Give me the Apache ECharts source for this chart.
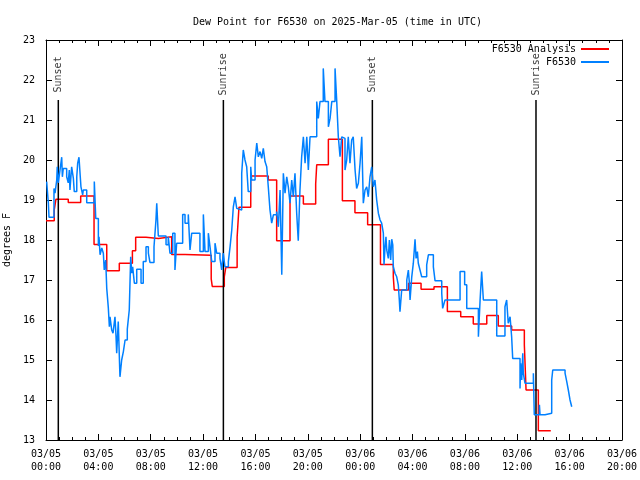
<!DOCTYPE html>
<html><head><meta charset="utf-8">
<script src="https://cdn.jsdelivr.net/npm/echarts@6/dist/echarts.min.js"></script>
<style>html,body{margin:0;padding:0;background:#fff}#c{width:640px;height:480px}</style>
</head><body><div id="c"></div>
<script>
const titleText = 'Dew Point for F6530 on 2025-Mar-05 (time in UTC)';
const yName = 'degrees F';
const seriesNames = ['F6530 Analysis', 'F6530'];
// hours since 2025-03-05 00:00 UTC
const redTimes = [0, 0.63, 0.76, 1.70, 2.65, 3.67, 4.64, 5.60, 6.60, 6.85, 7.64, 8.58, 9.60, 10.62, 12.62, 12.70, 13.62, 13.73, 14.60, 14.74, 15.64, 16.98, 17.62, 18.64, 19.66, 20.60, 20.68, 21.57, 22.64, 23.60, 24.57, 25.55, 26.53, 26.60, 27.70, 28.65, 29.64, 30.66, 31.68, 32.64, 33.67, 34.55, 35.57, 36.54, 36.67, 37.61, 38.56];
const redValues = [18.48, 18.75, 19.02, 18.94, 19.10, 17.89, 17.23, 17.42, 17.73, 18.07, 18.04, 18.08, 17.64, 17.62, 17.03, 16.84, 17.08, 17.31, 18.07, 18.82, 19.60, 19.50, 17.98, 19.10, 18.90, 19.40, 19.88, 20.52, 18.98, 18.68, 18.38, 17.39, 17.08, 16.75, 16.92, 16.77, 16.83, 16.21, 16.08, 15.90, 16.11, 15.85, 15.75, 15.38, 14.25, 13.23, 13.23];
const blueTimes = [0.05,0.18,0.23,0.61,0.69,0.82,0.86,0.94,1.07,1.20,1.25,1.32,1.58,1.70,1.78,1.83,1.96,2.09,2.16,2.35,2.42,2.52,2.60,2.67,2.80,2.85,3.11,3.69,3.80,4.00,4.05,4.13,4.26,4.38,4.45,4.56,4.64,4.76,4.84,4.89,5.02,5.12,5.27,5.35,5.40,5.52,5.65,5.78,5.91,6.04,6.21,6.36,6.47,6.55,6.62,6.75,6.93,7.26,7.43,7.64,7.82,7.94,8.25,8.40,8.46,8.58,9.17,9.34,9.47,9.68,9.85,9.98,10.44,10.62,10.87,11.00,11.13,11.76,12.02,12.15,12.40,12.53,12.66,12.91,13.04,13.29,13.42,13.54,13.67,13.93,14.06,14.19,14.31,14.44,14.57,14.69,14.95,15.07,15.20,15.33,15.45,15.64,15.71,15.97,16.10,16.22,16.35,16.48,16.60,16.73,16.86,16.98,17.11,17.24,17.37,17.62,17.75,17.88,18.01,18.13,18.26,18.39,18.51,18.64,18.77,18.89,19.02,19.15,19.27,19.40,19.53,19.66,19.79,19.92,20.04,20.17,20.68,20.80,20.93,21.18,21.31,21.57,21.70,21.83,22.08,22.21,22.33,22.46,22.59,22.71,22.84,22.97,23.09,23.22,23.35,23.47,23.61,23.73,23.86,23.99,24.12,24.24,24.37,24.50,24.62,24.75,24.88,25.00,25.13,25.26,25.39,25.52,25.64,25.77,25.82,25.90,25.97,26.03,26.15,26.23,26.33,26.41,26.49,26.53,26.66,26.79,26.91,26.99,27.04,27.17,27.56,27.68,27.75,27.81,27.94,28.06,28.19,28.27,28.37,28.44,28.57,28.70,29.08,29.21,29.59,29.72,30.23,30.30,30.41,30.48,31.63,31.98,32.14,33.03,33.16,33.28,33.41,34.43,35.06,35.19,35.31,35.45,35.57,35.65,36.21,36.26,36.34,36.42,36.46,36.59,37.23,37.30,37.69,37.74,38.12,38.63,38.71,39.65,39.78,39.90,40.03,40.16];
const blueValues = [19.46,18.92,18.57,19.29,19.17,19.50,19.83,19.43,19.75,20.07,19.58,19.79,19.58,19.43,19.75,19.25,19.83,19.54,19.21,19.58,19.92,20.07,19.67,19.33,19.13,19.25,18.93,19.46,18.54,17.85,18.08,17.63,17.80,17.67,17.25,17.50,16.79,16.31,15.83,16.08,15.75,15.67,16.08,15.58,15.17,15.96,14.58,15.00,15.21,15.50,15.77,16.25,17.58,17.17,17.33,16.92,17.27,16.92,17.46,17.83,17.67,17.44,17.83,18.50,18.92,18.10,17.88,18.08,17.67,18.17,17.25,17.92,18.64,18.42,18.64,17.75,18.17,17.71,18.64,17.71,18.17,17.83,17.46,17.92,17.67,17.54,17.25,17.67,17.33,17.46,17.83,18.25,18.83,19.08,18.79,18.75,19.67,20.25,20.00,19.83,19.21,19.83,19.50,20.00,20.42,20.08,20.21,20.04,20.29,19.96,19.83,19.33,18.75,18.42,18.63,18.71,18.33,19.25,17.13,19.67,19.17,19.58,19.33,18.92,19.50,19.08,19.67,18.67,17.98,19.25,20.08,20.58,19.92,20.58,19.75,20.58,21.46,21.04,21.46,22.29,21.46,20.83,21.04,21.46,22.29,21.46,20.58,20.08,20.58,20.54,19.75,20.00,20.58,19.92,20.50,20.58,19.75,19.29,19.42,19.92,20.58,18.92,19.25,19.33,19.08,19.58,19.83,19.33,19.50,19.00,18.67,18.50,18.42,18.17,17.38,17.83,18.08,17.75,17.54,18.00,17.50,18.02,17.88,17.33,17.17,17.08,16.88,16.50,16.21,16.75,17.00,17.25,16.96,16.50,17.08,17.42,18.02,17.54,17.71,17.42,17.25,17.08,17.38,17.63,17.33,16.98,16.67,16.29,16.42,16.50,17.21,16.88,16.29,15.58,16.50,17.21,16.50,15.60,16.33,16.50,15.92,16.08,15.58,15.04,14.29,14.92,14.50,15.17,14.67,14.42,14.67,13.63,13.88,13.63,13.67,14.50,14.75,14.67,14.46,14.25,14.00,13.83];
const sunTimes = [0.94, 13.55, 24.93, 37.43];
const sunLabels = ['Sunset', 'Sunrise', 'Sunset', 'Sunrise'];

const FONT = 'DejaVu Sans Mono';
const txt = {fontFamily: FONT, fontSize: 10, color: '#000'};
const zip = (a, b) => a.map((t, i) => [t, b[i]]);
function xfmt(v) {
  const day = v >= 24 ? '06' : '05';
  const hh = String(v % 24).padStart(2, '0');
  return '03/' + day + '\n' + hh + ':00';
}
const axisBase = {
  axisLine: {show: true, onZero: false, lineStyle: {color: '#000', width: 1}},
  splitLine: {show: false},
  axisTick: {inside: true, length: 6, lineStyle: {color: '#000'}}
};
const sunSeries = sunTimes.map((t, i) => ({
  type: 'line', silent: true, symbol: 'none', animation: false,
  lineStyle: {color: '#000', width: 1.5},
  data: [[t, 21.5], [t, 13]]
}));
const chart = echarts.init(document.getElementById('c'), null, {renderer: 'canvas'});
chart.setOption({
  animation: false,
  backgroundColor: '#fff',
  title: {text: titleText, left: 188, top: 12, textStyle: Object.assign({fontWeight: 'normal'}, txt)},
  grid: {left: 46, right: 18, top: 40, bottom: 40, containLabel: false, outerBoundsMode: 'none'},
  legend: [
    {data: [seriesNames[0]], right: 31, top: 44, align: 'right', orient: 'vertical', itemWidth: 28, itemHeight: 2, icon: 'rect', textStyle: txt, padding: 0},
    {data: [seriesNames[1]], right: 31, top: 57, align: 'right', orient: 'vertical', itemWidth: 28, itemHeight: 2, icon: 'rect', textStyle: txt, padding: 0}
  ],
  xAxis: [
    Object.assign({type: 'value', min: 0, max: 44, interval: 4, position: 'bottom',
      axisLabel: Object.assign({formatter: xfmt, margin: 8, lineHeight: 13}, txt),
      minorTick: {show: true, splitNumber: 4, length: 3, lineStyle: {color: '#000'}}}, axisBase),
    Object.assign({type: 'value', min: 0, max: 44, interval: 4, position: 'top',
      axisLabel: {show: false},
      minorTick: {show: true, splitNumber: 4, length: 3, lineStyle: {color: '#000'}}}, axisBase)
  ],
  yAxis: [
    Object.assign({type: 'value', min: 13, max: 23, interval: 1, position: 'left',
      name: yName, nameLocation: 'middle', nameRotate: 90, nameGap: 27, nameTextStyle: txt,
      axisLabel: Object.assign({margin: 11}, txt)}, axisBase),
    Object.assign({type: 'value', min: 13, max: 23, interval: 1, position: 'right',
      axisLabel: {show: false}}, axisBase)
  ],
  series: [
    {name: seriesNames[0], type: 'line', step: 'end', symbol: 'none', showSymbol: false,
     color: '#ff0000', lineStyle: {color: '#ff0000', width: 1.5}, data: zip(redTimes, redValues), z: 3},
    {name: seriesNames[1], type: 'line', step: 'end', symbol: 'none', showSymbol: false,
     color: '#0080ff', lineStyle: {color: '#0080ff', width: 1.5}, data: zip(blueTimes, blueValues), z: 4},
    ...sunSeries,
    {type: 'scatter', silent: true, symbolSize: 1, itemStyle: {color: 'rgba(0,0,0,0)'},
     data: sunTimes.map((t, i) => ({value: [t, 22.14], name: sunLabels[i]})),
     label: Object.assign({show: true, position: 'inside', rotate: 90, formatter: p => p.name, align: 'center', verticalAlign: 'middle'}, txt)}
  ]
});
</script></body></html>
